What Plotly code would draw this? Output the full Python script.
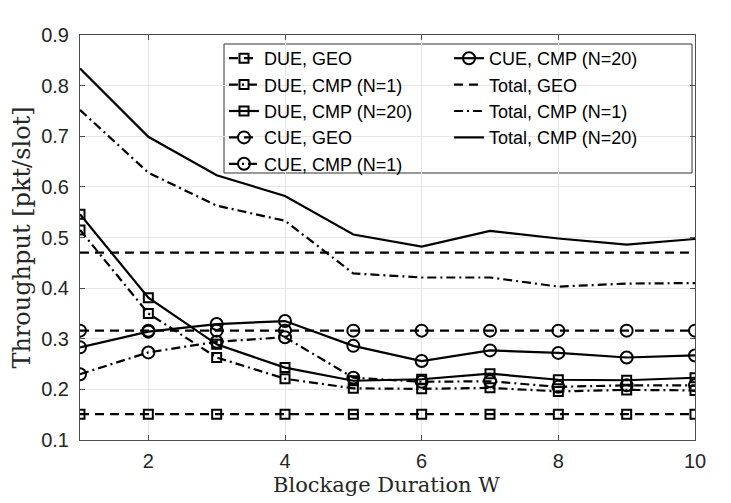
import plotly.graph_objects as go

W = [1, 2, 3, 4, 5, 6, 7, 8, 9, 10]

due_geo = [0.151, 0.151, 0.151, 0.151, 0.151, 0.151, 0.151, 0.151, 0.151, 0.151]
due_cmp1 = [0.515, 0.350, 0.263, 0.221, 0.202, 0.201, 0.203, 0.196, 0.199, 0.198]
due_cmp20 = [0.546, 0.381, 0.289, 0.243, 0.217, 0.220, 0.231, 0.219, 0.218, 0.223]
cue_geo = [0.316, 0.316, 0.316, 0.316, 0.316, 0.316, 0.316, 0.316, 0.316, 0.316]
cue_cmp1 = [0.230, 0.273, 0.294, 0.303, 0.223, 0.215, 0.216, 0.205, 0.208, 0.208]
cue_cmp20 = [0.283, 0.314, 0.329, 0.335, 0.286, 0.256, 0.277, 0.272, 0.263, 0.267]
tot_geo = [0.470, 0.470, 0.470, 0.470, 0.470, 0.470, 0.470, 0.470, 0.470, 0.470]
tot_cmp1 = [0.752, 0.628, 0.563, 0.533, 0.429, 0.421, 0.421, 0.403, 0.409, 0.410]
tot_cmp20 = [0.834, 0.699, 0.623, 0.582, 0.506, 0.482, 0.513, 0.498, 0.486, 0.497]

x_ticks = [2, 4, 6, 8, 10]
y_ticks = [0.1, 0.2, 0.3, 0.4, 0.5, 0.6, 0.7, 0.8, 0.9]

x_title = "Blockage Duration W"
y_title = "Throughput [pkt/slot]"

DASH = "9px,6px"
DASHDOT = "9px,4px,2px,4px"

series = [
    ("DUE, GEO", due_geo, DASH, "square-open", "legend"),
    ("DUE, CMP (N=1)", due_cmp1, DASHDOT, "square-open", "legend"),
    ("DUE, CMP (N=20)", due_cmp20, "solid", "square-open", "legend"),
    ("CUE, GEO", cue_geo, DASH, "circle-open", "legend"),
    ("CUE, CMP (N=1)", cue_cmp1, DASHDOT, "circle-open", "legend"),
    ("CUE, CMP (N=20)", cue_cmp20, "solid", "circle-open", "legend2"),
    ("Total, GEO", tot_geo, DASH, None, "legend2"),
    ("Total, CMP (N=1)", tot_cmp1, DASHDOT, None, "legend2"),
    ("Total, CMP (N=20)", tot_cmp20, "solid", None, "legend2"),
]

fig = go.Figure()
for name, ys, dash, sym, lg in series:
    if sym is None:
        mode = "lines"
        marker = None
    else:
        mode = "lines+markers"
        size = 9 if sym.startswith("square") else 12
        marker = dict(symbol=sym, size=size, color="black", line=dict(width=2, color="black"))
    fig.add_trace(go.Scatter(
        x=W, y=ys, name=name, mode=mode,
        line=dict(color="black", width=2.2, dash=dash),
        marker=marker, legend=lg,
    ))

# page has an 8px body offset; compensate so plot sits at 80..695 x 35..440 on screen
OFF = 8
L, R, T, B = 80 - OFF, 36 + OFF, 35 - OFF, 63 + OFF
pw = 731 - L - R
ph = 503 - T - B

def px_x(p):
    return (p - OFF - L) / pw

def px_y(p):
    return (503 - B - (p - OFF)) / ph

fig.add_shape(type="rect", xref="paper", yref="paper",
              x0=px_x(224), x1=px_x(692), y0=px_y(173), y1=px_y(44),
              line=dict(color="#333333", width=1), fillcolor="white", layer="below")

fig.add_annotation(text=x_title, xref="paper", yref="paper",
                   x=px_x(386), y=px_y(485), xanchor="center", yanchor="middle",
                   showarrow=False,
                   font=dict(family="DejaVu Serif, Liberation Serif, serif", size=21, color="#262626"))

legend_font = dict(family="Liberation Sans, Arial, sans-serif", size=18, color="black")
fig.update_layout(
    width=731, height=503,
    margin=dict(l=L, r=R, t=T, b=B),
    paper_bgcolor="white", plot_bgcolor="white",
    font=dict(family="Liberation Sans, Arial, sans-serif", size=20, color="#262626"),
    legend=dict(x=px_x(224), y=px_y(40), xanchor="left", yanchor="top",
                bgcolor="rgba(0,0,0,0)", borderwidth=0, font=legend_font,
                tracegroupgap=0, itemwidth=30),
    legend2=dict(x=px_x(449), y=px_y(40), xanchor="left", yanchor="top",
                 bgcolor="rgba(0,0,0,0)", borderwidth=0, font=legend_font,
                 tracegroupgap=0, itemwidth=30),
    xaxis=dict(range=[1, 10], tickvals=x_ticks, ticktext=[str(v) for v in x_ticks],
               showgrid=True, gridcolor="#e6e6e6", gridwidth=1,
               showline=True, linecolor="#4d4d4d", linewidth=1, mirror="ticks",
               ticks="inside", ticklen=5, tickcolor="#4d4d4d",
               zeroline=False, ticklabelstandoff=3,
               tickfont=dict(size=20, color="#262626")),
    yaxis=dict(range=[0.1, 0.9], tickvals=y_ticks, ticktext=["%.1f" % v for v in y_ticks],
               showgrid=True, gridcolor="#e6e6e6", gridwidth=1,
               showline=True, linecolor="#4d4d4d", linewidth=1, mirror="ticks",
               ticks="inside", ticklen=5, tickcolor="#4d4d4d",
               zeroline=False, ticklabelstandoff=6,
               tickfont=dict(size=20, color="#262626"),
               title=dict(text=y_title, standoff=4,
                          font=dict(family="DejaVu Serif, Liberation Serif, serif", size=24, color="#262626"))),
)

fig.write_html("out.html")
